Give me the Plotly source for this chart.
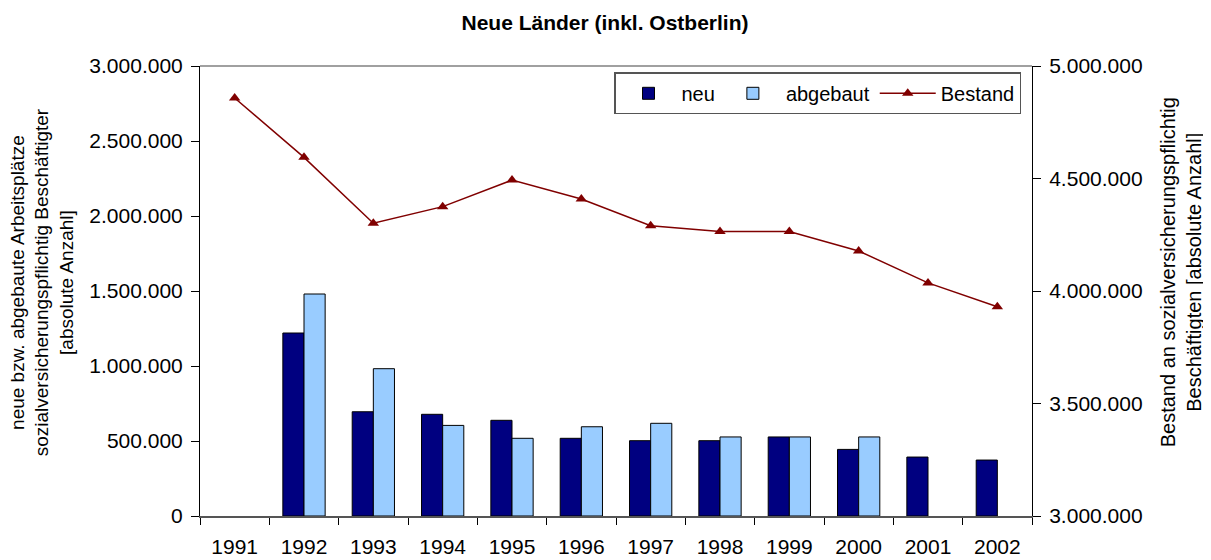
import plotly.graph_objects as go

years = ["1991", "1992", "1993", "1994", "1995", "1996", "1997", "1998", "1999", "2000", "2001", "2002"]
neu = [None, 1220000, 695000, 678000, 638000, 518000, 502000, 502000, 527000, 444000, 393000, 373000]
abgebaut = [None, 1480000, 982000, 604000, 518000, 595000, 618000, 527000, 527000, 527000, None, None]
bestand = [4858000, 4594000, 4301000, 4375000, 4493000, 4409000, 4290000, 4264000, 4264000, 4178000, 4036000, 3930000]

title_text = "Neue Länder (inkl. Ostberlin)"
left_title = "neue bzw. abgebaute Arbeitsplätze<br>sozialversicherungspflichtig Beschäftigter<br>[absolute Anzahl]"
right_title = "Bestand an sozialversicherungspflichtig<br>Beschäftigten [absolute Anzahl]"

FONT = "Liberation Sans, Arial, sans-serif"

# page is offset by the 8px body margin, so the figure is 8px smaller
W, H = 1203, 552
L, R, T, B = 192, 179, 58, 44
PW = W - L - R
PH = H - T - B

fig = go.Figure()
fig.add_trace(go.Bar(x=years, y=neu, name="neu",
                     marker=dict(color="#000080", line=dict(color="#000000", width=1))))
fig.add_trace(go.Bar(x=years, y=abgebaut, name="abgebaut",
                     marker=dict(color="#99CCFF", line=dict(color="#000000", width=1))))
fig.add_trace(go.Scatter(x=years, y=bestand, name="Bestand", yaxis="y2",
                         mode="lines+markers",
                         line=dict(color="#800000", width=1.5),
                         marker=dict(symbol="triangle-up", size=10, color="#800000")))

fig.update_layout(
    width=W, height=H,
    margin=dict(l=L, r=R, t=T, b=B, pad=0),
    paper_bgcolor="white", plot_bgcolor="white",
    font=dict(family=FONT, size=21, color="#000000"),
    separators=",.",
    barmode="group", bargap=0.39, bargroupgap=0,
    showlegend=True,
    title=dict(text="<b>" + title_text + "</b>", x=597 / W, xanchor="center",
               y=1 - 14.5 / H, yanchor="middle", font=dict(size=21, family=FONT)),
    legend=dict(orientation="h", x=(1021 - 200) / PW, xanchor="right",
                y=(515.7 - 72) / PH, yanchor="top",
                bordercolor="#555555", borderwidth=1.5, bgcolor="white",
                itemwidth=56,
                font=dict(size=20, family=FONT), traceorder="normal"),
    xaxis=dict(type="category", range=[-0.5, len(years) - 0.5],
               tickson="boundaries", ticks="outside", ticklen=7,
               tickcolor="#000000", showline=True, linecolor="#555555", linewidth=2,
               showgrid=False, ticklabelstandoff=11, tickfont=dict(size=21),
               automargin=False),
    yaxis=dict(range=[0, 3000000], dtick=500000, tickformat=",", ticks="outside",
               ticklen=8, tickcolor="#000000", showline=True, linecolor="#000000",
               linewidth=1, showgrid=False, zeroline=False, tickfont=dict(size=21),
               ticklabelstandoff=4, automargin=False),
    yaxis2=dict(range=[3000000, 5000000], dtick=500000, tickformat=",", overlaying="y",
                side="right", ticks="outside", ticklen=8, tickcolor="#000000",
                showline=True, linecolor="#000000", linewidth=1, showgrid=False,
                zeroline=False, tickfont=dict(size=21), ticklabelstandoff=4,
                automargin=False),
    annotations=[
        dict(text=left_title, xref="paper", yref="paper", x=(42 - 200) / PW,
             y=(515.7 - 282) / PH,
             textangle=-90, showarrow=False, font=dict(size=19, family=FONT),
             xanchor="center", yanchor="middle", align="center"),
        dict(text=right_title, xref="paper", yref="paper", x=(1181 - 200) / PW,
             y=(515.7 - 272) / PH,
             textangle=-90, showarrow=False, font=dict(size=20, family=FONT),
             xanchor="center", yanchor="middle", align="center"),
    ],
    shapes=[dict(type="line", xref="paper", yref="paper", x0=0, x1=1, y0=1, y1=1,
                 line=dict(color="#808080", width=1.5))],
)

fig.write_html("out.html")
